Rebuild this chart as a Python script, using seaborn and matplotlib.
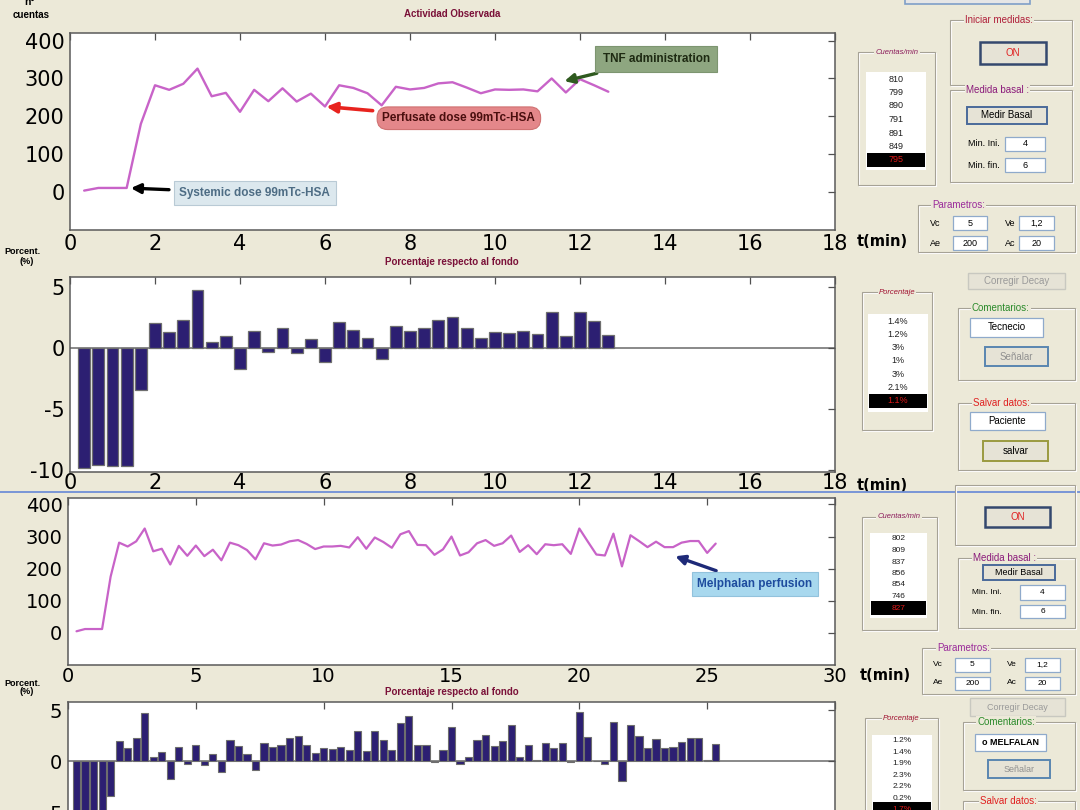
import numpy as np
import pandas as pd
import matplotlib
matplotlib.use("Agg")
import matplotlib.pyplot as plt
from matplotlib.patches import Rectangle
import seaborn as sns

# ---------------- data ----------------
step_min = 1 / 3
counts_tnf = [4, 11, 11, 11, 180, 282, 270, 286, 326, 253, 262, 212, 270, 240, 274, 239,
              260, 226, 282, 275, 261, 229, 278, 271, 275, 287, 290, 276, 261, 271, 270,
              271, 266, 300, 263, 298, 282, 265]
pct_tnf = [-9.85, -9.65, -9.7, -9.7, -3.45, 2.0, 1.3, 2.25, 4.7, 0.43, 0.92, -1.74, 1.39,
           -0.33, 1.58, -0.46, 0.71, -1.14, 2.07, 1.49, 0.76, -0.92, 1.82, 1.39, 1.63, 2.26,
           2.5, 1.63, 0.82, 1.3, 1.22, 1.41, 1.09, 2.96, 1.0, 2.96, 2.15, 1.05]
counts_mel = [5, 12, 12, 12, 175, 281, 269, 285, 325, 254, 262, 213, 271, 240, 272, 239,
              259, 226, 281, 273, 258, 229, 279, 272, 275, 285, 289, 277, 261, 269, 269,
              271, 266, 298, 262, 297, 283, 265, 307, 317, 274, 273, 243, 260, 300, 241,
              251, 279, 289, 271, 279, 303, 252, 273, 245, 276, 273, 276, 246, 325, 284,
              244, 241, 309, 207, 304, 286, 267, 284, 267, 267, 281, 286, 286, 249, 278]
pct_mel = [-9.8, -9.6, -9.7, -9.7, -3.45, 1.95, 1.3, 2.25, 4.7, 0.45, 0.93, -1.73, 1.38,
           -0.32, 1.57, -0.42, 0.71, -1.1, 2.06, 1.47, 0.73, -0.9, 1.8, 1.37, 1.61, 2.26,
           2.48, 1.62, 0.81, 1.3, 1.22, 1.38, 1.1, 2.92, 0.98, 2.92, 2.11, 1.04, 3.7, 4.42,
           1.62, 1.62, -0.13, 1.04, 3.38, -0.26, 0.36, 2.08, 2.6, 1.46, 1.98, 3.5, 0.39,
           1.62, 0.06, 1.8, 1.27, 1.8, -0.1, 4.84, 2.36, -0.03, -0.27, 3.83, -1.96, 3.5,
           2.42, 1.26, 2.16, 1.26, 1.35, 1.9, 2.23, 2.23, 0.13, 1.65]

t_tnf = np.arange(1, len(counts_tnf) + 1) * step_min
t_mel = np.arange(1, len(counts_mel) + 1) * step_min

xticks_top = [0, 2, 4, 6, 8, 10, 12, 14, 16, 18]
xticks_bot = [0, 5, 10, 15, 20, 25, 30]
yticks_counts = [0, 100, 200, 300, 400]
yticks_pct = [-10, -5, 0, 5]

cuentas_list_top = ["810", "799", "890", "791", "891", "849"]
cuentas_last_top = "795"
pct_list_top = ["1.4%", "1.2%", "3%", "1%", "3%", "2.1%"]
pct_last_top = "1.1%"
cuentas_list_bot = ["802", "809", "837", "856", "854", "746"]
cuentas_last_bot = "827"
pct_list_bot = ["1.2%", "1.4%", "1.9%", "2.3%", "2.2%", "0.2%"]
pct_last_bot = "1.7%"

# ---------------- style ----------------
W, H = 1080, 810
BG = "#ECE9D8"
LINE = "#C863C8"
BAR = "#2C1F72"
GUI = "Liberation Sans"

sns.set_theme(style="white")
plt.rcParams["font.family"] = ["DejaVu Sans"]
plt.rcParams["axes.unicode_minus"] = False

fig = plt.figure(figsize=(W / 100, H / 100), dpi=100, facecolor=BG)


def add_ax(x0, y0, x1, y1, z=0):
    return fig.add_axes([x0 / W, 1 - y1 / H, (x1 - x0) / W, (y1 - y0) / H], zorder=z)


def style_ax(ax, xlim, ylim, xt, yt, fs, xpad=4, ypad=4, xlabels=True):
    ax.set_facecolor("white")
    ax.set_xlim(*xlim)
    ax.set_ylim(*ylim)
    ax.set_xticks(xt)
    ax.set_yticks(yt)
    ax.set_xlabel("")
    ax.set_ylabel("")
    ax.tick_params(axis="both", direction="in", top=True, right=True, length=5,
                   width=0.9, color="#505050", labelsize=fs, labelcolor="black")
    ax.tick_params(axis="x", pad=xpad, labelbottom=xlabels)
    ax.tick_params(axis="y", pad=ypad)
    for s in ax.spines.values():
        s.set_color("#5A5A5A")
        s.set_linewidth(1.1)
        s.set_visible(True)


def rect(x0, y0, x1, y1, fc="none", ec="#A6A296", lw=0.8, z=3):
    fig.add_artist(Rectangle((x0 / W, 1 - y1 / H), (x1 - x0) / W, (y1 - y0) / H,
                             transform=fig.transFigure, facecolor=fc, edgecolor=ec,
                             linewidth=lw, zorder=z))


def txt(x, y, s, size=7, color="black", ha="center", weight="normal", style="normal",
        z=5, bbox=None, family=GUI):
    fig.text(x / W, 1 - y / H, s, ha=ha, va="center", fontsize=size, color=color,
             fontweight=weight, fontstyle=style, zorder=z, bbox=bbox, family=family)


def group(x0, y0, x1, y1, title=None, tcolor="#8B1A4A", tx=None, ha="left", size=7,
          style="normal"):
    rect(x0 + 1, y0 + 1, x1 + 1, y1 + 1, ec="white", lw=0.8)
    rect(x0, y0, x1, y1, ec="#A6A296", lw=0.8)
    if title:
        if tx is None:
            tx = x0 + 12
        txt(tx, y0, title, size=size, color=tcolor, ha=ha, style=style,
            bbox=dict(boxstyle="square,pad=0.15", fc=BG, ec="none"))


def button(x0, y0, x1, y1, label, tcolor="black", ec="#3E5C8E", lw=1.4, size=7):
    rect(x0, y0, x1, y1, fc="#E6E3D6", ec=ec, lw=lw)
    txt((x0 + x1) / 2, (y0 + y1) / 2, label, size=size, color=tcolor)


def edit(x0, y0, x1, y1, label, size=7, weight="normal"):
    rect(x0, y0, x1, y1, fc="white", ec="#8FAACB", lw=0.9)
    txt((x0 + x1) / 2, (y0 + y1) / 2, label, size=size, weight=weight)


def listbox(x0, y0, x1, y1, items, last, ystart, dy, size=6.5):
    rect(x0, y0, x1, y1, fc="white", ec="none", lw=0)
    for i, it in enumerate(items):
        txt((x0 + x1) / 2, ystart + i * dy, it, size=size, color="#202020")
    yl = ystart + len(items) * dy
    rect(x0 + 1, yl - 7, x1 - 1, yl + 7, fc="black", ec="none", lw=0)
    txt((x0 + x1) / 2, yl, last, size=size, color="#E01818")


# ---------------- upper screenshot ----------------
ax1 = add_ax(70, 33, 835, 230)
sns.lineplot(data=pd.DataFrame({"t": t_tnf, "c": counts_tnf}), x="t", y="c", ax=ax1,
             color=LINE, linewidth=1.7, errorbar=None, legend=False)
style_ax(ax1, (0, 18), (-100, 420), xticks_top, yticks_counts, 15, xpad=3, ypad=4)

ax2 = add_ax(70, 277, 835, 472)
sns.barplot(x=t_tnf, y=pct_tnf, native_scale=True, ax=ax2, color=BAR, saturation=1,
            edgecolor="#6E6E6E", linewidth=0.9, width=0.84, errorbar=None)
ax2.axhline(0, color="#6A6A6A", lw=1.1, zorder=0.5)
style_ax(ax2, (0, 18), (-10.2, 5.8), xticks_top, yticks_pct, 15, xpad=1, ypad=4)

ann_font = dict(family=GUI, fontweight="bold", fontsize=8.5, ha="center", va="center")
ax1.annotate("Systemic dose 99mTc-HSA", xy=(t_tnf[3], counts_tnf[3]), xytext=(4.35, -3),
             color="#4D6C84",
             bbox=dict(boxstyle="square,pad=0.5", fc="#DCE8EE", ec="#B9CAD5", lw=0.8),
             arrowprops=dict(arrowstyle="-|>", color="black", lw=2.4, mutation_scale=14,
                             shrinkA=3, shrinkB=3), **ann_font)
ax1.annotate("Perfusate dose 99mTc-HSA", xy=(t_tnf[17], counts_tnf[17]), xytext=(9.15, 195),
             color="#4A0E0E",
             bbox=dict(boxstyle="round,pad=0.45,rounding_size=0.9", fc="#E4878A",
                       ec="#D07272", lw=0.8),
             arrowprops=dict(arrowstyle="-|>", color="#E8231E", lw=2.6, mutation_scale=15,
                             shrinkA=4, shrinkB=1), **ann_font)
ax1.annotate("TNF administration", xy=(11.6, 292), xytext=(13.79, 352),
             color="#1E2A12",
             bbox=dict(boxstyle="square,pad=0.6", fc="#8EA680", ec="#7D9570", lw=0.8),
             arrowprops=dict(arrowstyle="-|>", color="#2F5A1F", lw=2.4, mutation_scale=14,
                             shrinkA=3, shrinkB=1), **ann_font)

# labels of upper screenshot
txt(30, 2, "n°", size=7.5, weight="bold")
txt(31, 15, "cuentas", size=7, weight="bold")
txt(452, 14, "Actividad Observada", size=7, weight="bold", color="#7A1038")
txt(22, 252, "Porcent.", size=6.5, weight="bold")
txt(27, 262, "(%)", size=6.5, weight="bold")
txt(452, 262, "Porcentaje respecto al fondo", size=7, weight="bold", color="#7A1038")
txt(882, 242, "t(min)", size=10.5, weight="bold", family="DejaVu Sans")
txt(882, 486, "t(min)", size=10.5, weight="bold", family="DejaVu Sans", z=0.5)

# GUI of upper screenshot
rect(905, -10, 1030, 4, fc="#E6E6E6", ec="#7F9FC8", lw=1.2)
group(950, 20, 1072, 85, "Iniciar medidas:", tcolor="#B0203A", tx=965)
button(980, 42, 1046, 64, "ON", tcolor="#E02020", ec="#34486E", lw=1.8)
group(858, 52, 935, 185, "Cuentas/min", tcolor="#8A1A5A", tx=897, ha="center",
      size=5.5, style="italic")
listbox(866, 72, 926, 170, cuentas_list_top, cuentas_last_top, 79, 13.5)
group(950, 90, 1072, 182, "Medida basal :", tcolor="#8A1A7A", tx=966)
button(967, 107, 1047, 124, "Medir Basal", ec="#4A6A9A", lw=1.4)
txt(968, 144, "Min. Ini.", size=6.5, ha="left")
edit(1005, 137, 1045, 151, "4", size=6.5)
txt(968, 165, "Min. fin.", size=6.5, ha="left")
edit(1005, 158, 1045, 172, "6", size=6.5)
group(918, 205, 1075, 252, "Parametros:", tcolor="#9A2A9A", tx=932)
txt(930, 223, "Vc", size=6.5, ha="left")
edit(953, 216, 987, 230, "5", size=6.5)
txt(1005, 223, "Ve", size=6.5, ha="left")
edit(1019, 216, 1054, 230, "1,2", size=6.5)
txt(930, 243, "Ae", size=6.5, ha="left")
edit(953, 236, 987, 250, "200", size=6.5)
txt(1005, 243, "Ac", size=6.5, ha="left")
edit(1019, 236, 1054, 250, "20", size=6.5)
button(968, 273, 1065, 289, "Corregir Decay", tcolor="#9A9A9A", ec="#C8C8C0", lw=1.0)
group(862, 292, 932, 430, "Porcentaje", tcolor="#A01030", tx=897, ha="center",
      size=5.5, style="italic")
listbox(868, 314, 928, 412, pct_list_top, pct_last_top, 321, 13.3)
group(958, 308, 1075, 380, "Comentarios:", tcolor="#2A8A2A", tx=972)
edit(970, 318, 1043, 337, "Tecnecio", size=7)
button(985, 347, 1048, 366, "Señalar", tcolor="#909090", ec="#5A86B0", lw=1.4)
group(958, 403, 1075, 470, "Salvar datos:", tcolor="#E02020", tx=973)
edit(970, 412, 1045, 430, "Paciente", size=7)
button(983, 441, 1048, 461, "salvar", ec="#9A9A40", lw=1.4)

# ---------------- lower screenshot (overlaps) ----------------
rect(0, 492, W + 5, H + 20, fc=BG, ec="none", lw=0, z=1)
fig.add_artist(plt.Line2D([0, 1], [1 - 492 / H, 1 - 492 / H], transform=fig.transFigure,
                          color="#6F8FD6", lw=1.3, zorder=1.5))

ax3 = add_ax(68, 498, 835, 665, z=2)
sns.lineplot(data=pd.DataFrame({"t": t_mel, "c": counts_mel}), x="t", y="c", ax=ax3,
             color=LINE, linewidth=1.6, errorbar=None, legend=False)
style_ax(ax3, (0, 30), (-100, 420), xticks_bot, yticks_counts, 14, xpad=1.5, ypad=4)
ax3.annotate("Melphalan perfusion", xy=(23.7, 240), xytext=(26.87, 151),
             color="#1E4C9E",
             bbox=dict(boxstyle="square,pad=0.5", fc="#A8D8EE", ec="#92C2DC", lw=0.8),
             arrowprops=dict(arrowstyle="-|>", color="#1E2A78", lw=2.4, mutation_scale=14,
                             shrinkA=3, shrinkB=1), **ann_font)

ax4 = add_ax(68, 702, 835, 865, z=2)
sns.barplot(x=t_mel, y=pct_mel, native_scale=True, ax=ax4, color=BAR, saturation=1,
            edgecolor="#6E6E6E", linewidth=0.8, width=0.84, errorbar=None)
ax4.axhline(0, color="#6A6A6A", lw=1.1, zorder=0.5)
style_ax(ax4, (0, 30), (-10.2, 5.8), xticks_bot, yticks_pct, 14, xpad=3, ypad=4,
         xlabels=False)

txt(22, 683, "Porcent.", size=6.5, weight="bold")
txt(27, 692, "(%)", size=6.5, weight="bold")
txt(452, 692, "Porcentaje respecto al fondo", size=7, weight="bold", color="#7A1038")
txt(885, 675, "t(min)", size=10.5, weight="bold", family="DejaVu Sans")

# GUI of lower screenshot
group(955, 485, 1075, 545)
button(985, 507, 1050, 527, "ON", tcolor="#E02020", ec="#34486E", lw=1.8)
group(862, 517, 937, 630, "Cuentas/min", tcolor="#8A1A5A", tx=899, ha="center",
      size=5.5, style="italic")
listbox(870, 533, 927, 618, cuentas_list_bot, cuentas_last_bot, 539, 11.5, size=6)
group(958, 558, 1075, 628, "Medida basal :", tcolor="#8A1A7A", tx=973)
button(983, 565, 1055, 580, "Medir Basal", ec="#4A6A9A", lw=1.4, size=6.5)
txt(972, 592, "Min. Ini.", size=6, ha="left")
edit(1020, 585, 1065, 600, "4", size=6)
txt(972, 612, "Min. fin.", size=6, ha="left")
edit(1020, 605, 1065, 618, "6", size=6)
group(922, 648, 1075, 694, "Parametros:", tcolor="#9A2A9A", tx=937)
txt(933, 664, "Vc", size=6, ha="left")
edit(955, 658, 990, 672, "5", size=6)
txt(1007, 664, "Ve", size=6, ha="left")
edit(1025, 658, 1060, 672, "1,2", size=6)
txt(933, 683, "Ae", size=6, ha="left")
edit(955, 677, 990, 690, "200", size=6)
txt(1007, 683, "Ac", size=6, ha="left")
edit(1025, 677, 1060, 690, "20", size=6)
button(970, 698, 1065, 716, "Corregir Decay", tcolor="#9A9A9A", ec="#C8C8C0", lw=1.0,
       size=6.5)
group(865, 718, 938, 830, "Porcentaje", tcolor="#A01030", tx=901, ha="center",
      size=5.5, style="italic")
listbox(872, 735, 932, 815, pct_list_bot, pct_last_bot, 741, 11.4, size=6)
group(963, 722, 1075, 790, "Comentarios:", tcolor="#2A8A2A", tx=977)
edit(975, 734, 1046, 751, "o MELFALAN", size=6.5, weight="bold")
button(988, 760, 1050, 778, "Señalar", tcolor="#909090", ec="#5A86B0", lw=1.4, size=6.5)
group(963, 801, 1075, 860, "Salvar datos:", tcolor="#E02020", tx=980)

fig.savefig("out.png", dpi=100, facecolor=BG)
